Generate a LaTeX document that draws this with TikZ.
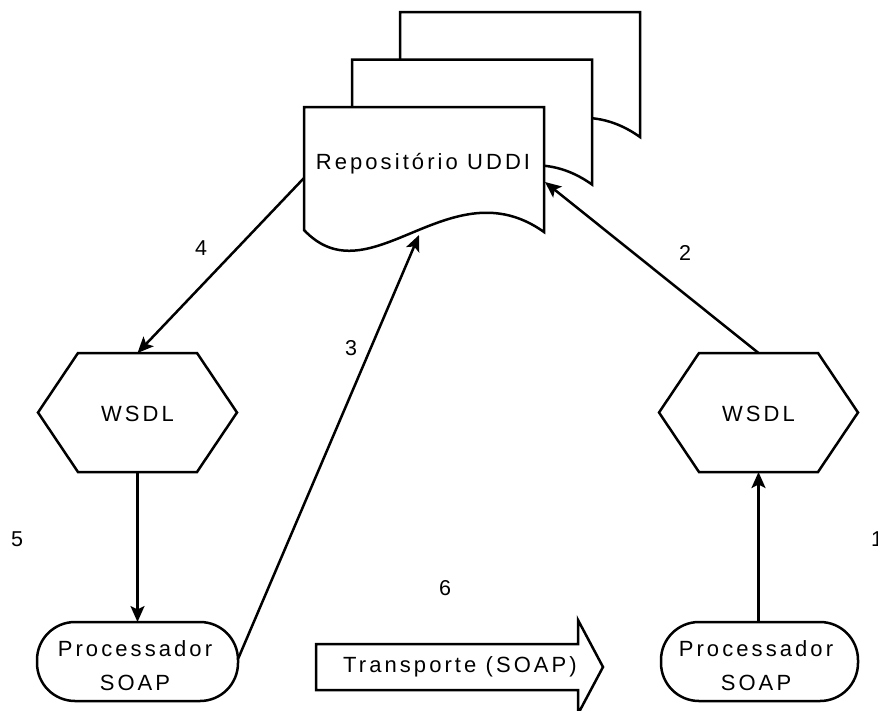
\documentclass[tikz,border=0pt]{standalone}
\usepackage{fontspec}
\setmainfont{Liberation Sans}
\newfontfamily\spacedfont[LetterSpace=14]{Liberation Sans}
\usetikzlibrary{arrows.meta,calc}

\tikzset{
  docsheet/.pic={
    \draw[fill=white] (304,107) -- (544,107) -- (544,232)
      .. controls (450,165) and (370,300) .. (304,230) -- cycle;
  },
  lbl/.style={font=\fontsize{21.5}{25}\selectfont, inner sep=0pt, outer sep=0pt},
  txt/.style={font=\spacedfont\fontsize{22}{34}\selectfont, align=center, inner sep=0pt, outer sep=0pt},
  hexnode/.style={txt, minimum width=199pt, minimum height=119pt},
  procbox/.style={draw, rounded corners=38pt, minimum height=79pt, fill=white, inner sep=0pt, outer sep=0pt},
  arr/.style={-{Stealth[length=16pt,width=14pt,inset=3.5pt]}},
}

\begin{document}
\begin{tikzpicture}[x=1pt,y=-1pt, line width=2.5pt]
\useasboundingbox (0,0) rectangle (878,710);
\clip (0,0) rectangle (878,710);

% stacked documents (back to front)
\pic at (96,-95) {docsheet};
\pic at (48,-47.5) {docsheet};
\pic at (0,0) {docsheet};
\node[txt] (repo) at (423,164) {Repositório UDDI};
\coordinate (repoL) at (304,178);
\coordinate (repoR) at (545,182);
\coordinate (repoB) at (419,235);

% hexagons
\node[hexnode] (wsdlL) at (137.5,414) {WSDL};
\node[hexnode] (wsdlR) at (758.5,414) {WSDL};
\foreach \h in {wsdlL,wsdlR}{
  \draw ([yshift=1.5pt]\h.west) -- ([xshift=40pt,yshift=1.5pt]\h.north west) -- ([xshift=-40pt,yshift=1.5pt]\h.north east)
    -- ([yshift=1.5pt]\h.east) -- ([xshift=-40pt,yshift=1.5pt]\h.south east) -- ([xshift=40pt,yshift=1.5pt]\h.south west) -- cycle;
}
\coordinate (wsdlLtop) at (137.5,353);
\coordinate (wsdlLbot) at (137.5,472);
\coordinate (wsdlRtop) at (758.5,353);
\coordinate (wsdlRbot) at (758.5,472);

% processors
\node[procbox, minimum width=201pt] (procL) at (137.5,661.5) {};
\node[procbox, minimum width=197pt] (procR) at (759.5,661.5) {};
\node[txt] (procLt) at (135,666) {Processador\\SOAP};
\node[txt] (procRt) at (756,666) {Processador\\SOAP};
\coordinate (procLr) at (238,659);

% transport arrow
\node[txt] (transp) at (460,667) {Transporte (SOAP)};
\draw (316,644) -- (578,644) -- (578,620) -- (603,667) -- (578,714) -- (578,690) -- (316,690) -- cycle;

% connectors
\draw[arr] (repoL) -- (wsdlLtop);
\draw[arr] (wsdlLbot) -- (procL.north);
\draw[arr] (procLr) -- (repoB);
\draw[arr] (wsdlRtop) -- (repoR);
\draw[arr] ([xshift=-1pt]procR.north) -- (wsdlRbot);

% labels
\node[lbl] (n4) at (201,248) {4};
\node[lbl] (n3) at (351,348) {3};
\node[lbl] (n2) at (685,253) {2};
\node[lbl] (n5) at (17,539) {5};
\node[lbl] (n6) at (445,588) {6};
\node[lbl] (n1) at (877,539) {1};
\end{tikzpicture}
\end{document}
